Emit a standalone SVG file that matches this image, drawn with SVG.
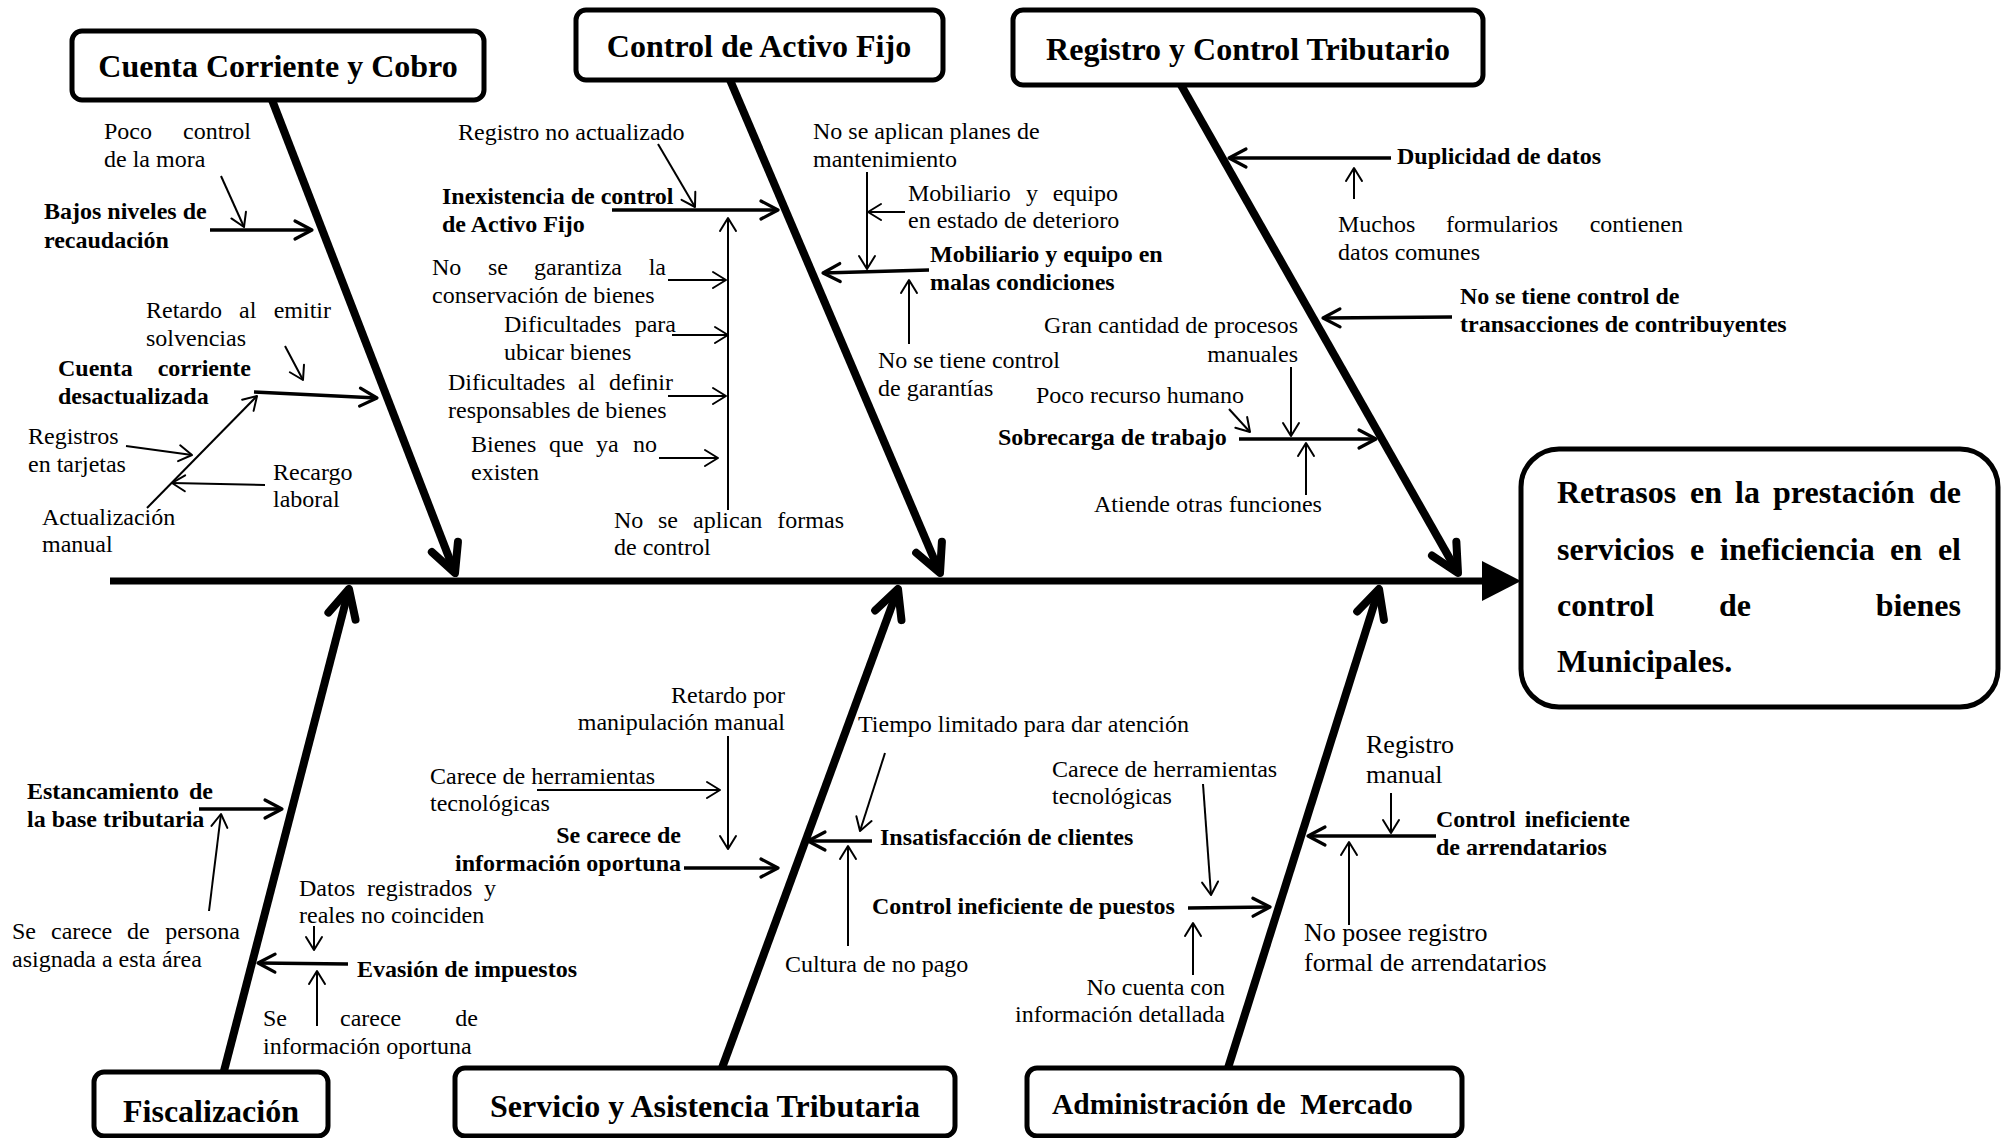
<svg xmlns="http://www.w3.org/2000/svg" width="2011" height="1138" viewBox="0 0 2011 1138">
  <defs>
    <style>
      text { font-family: "Liberation Serif", "Times New Roman", serif; font-size: 24px; fill: #000; }
      .b { font-weight: bold; }
      .lg { font-size: 26px; }
      .title { font-size: 32px; font-weight: bold; }
      .effect { font-size: 32px; font-weight: bold; }
      .box { fill: #fff; stroke: #000; stroke-width: 5; }
      .bone { stroke: #000; stroke-width: 8; fill: none; marker-end: url(#big); }
      .spine { stroke: #000; stroke-width: 7; fill: none; }
      .br { stroke: #000; stroke-width: 3.5; fill: none; marker-end: url(#mid); }
      .sub { stroke: #000; stroke-width: 2; fill: none; marker-end: url(#small); }
    </style>
    <marker id="big" markerUnits="userSpaceOnUse" viewBox="-34 -20 38 40" markerWidth="38" markerHeight="40" refX="0" refY="0" orient="auto" overflow="visible">
      <path d="M-28,-14 L0,0 L-28,14" fill="none" stroke="#000" stroke-width="8" stroke-linecap="round" stroke-linejoin="round"/>
    </marker>
    <marker id="mid" markerUnits="userSpaceOnUse" viewBox="-20 -12 24 24" markerWidth="24" markerHeight="24" refX="0" refY="0" orient="auto" overflow="visible">
      <path d="M-17,-9 L0,0 L-17,9" fill="none" stroke="#000" stroke-width="3.2" stroke-linecap="round" stroke-linejoin="round"/>
    </marker>
    <marker id="small" markerUnits="userSpaceOnUse" viewBox="-16 -10 20 20" markerWidth="20" markerHeight="20" refX="0" refY="0" orient="auto" overflow="visible">
      <path d="M-13,-8 L0,0 L-13,8" fill="none" stroke="#000" stroke-width="2" stroke-linecap="round" stroke-linejoin="round"/>
    </marker>
  </defs>

  <rect x="0" y="0" width="2011" height="1138" fill="#fff"/>

  <!-- connectors: spine, category bones, cause branches and sub-cause arrows -->
  <g id="connectors">
    <line class="spine" x1="110" y1="581" x2="1484" y2="581"/>
    <polygon points="1482,561 1521,581 1482,601" fill="#000"/>

    <line class="bone" x1="272" y1="100" x2="455" y2="573"/>
    <line class="bone" x1="730" y1="80" x2="940" y2="573"/>
    <line class="bone" x1="1181" y1="85" x2="1458" y2="573"/>
    <line class="bone" x1="224" y1="1071" x2="349" y2="589"/>
    <line class="bone" x1="722" y1="1068" x2="898" y2="589"/>
    <line class="bone" x1="1228" y1="1068" x2="1379" y2="589"/>

    <!-- Cuenta Corriente y Cobro -->
    <line class="sub" x1="221" y1="176" x2="244" y2="227"/>
    <line class="br" x1="210" y1="230" x2="312" y2="230"/>
    <line class="sub" x1="285" y1="346" x2="303" y2="380"/>
    <line class="br" x1="254" y1="392" x2="377" y2="398"/>
    <line class="sub" x1="147" y1="508" x2="257" y2="396"/>
    <line class="sub" x1="126" y1="446" x2="192" y2="455"/>
    <line class="sub" x1="265" y1="485" x2="172" y2="483"/>

    <!-- Control de Activo Fijo -->
    <line class="sub" x1="658" y1="144" x2="695" y2="207"/>
    <line class="br" x1="612" y1="210" x2="778" y2="210"/>
    <line class="sub" x1="728" y1="510" x2="728" y2="218"/>
    <line class="sub" x1="668" y1="280" x2="726" y2="280"/>
    <line class="sub" x1="672" y1="335" x2="728" y2="335"/>
    <line class="sub" x1="668" y1="396" x2="726" y2="396"/>
    <line class="sub" x1="659" y1="458" x2="718" y2="458"/>
    <line class="sub" x1="867" y1="172" x2="867" y2="269"/>
    <line class="sub" x1="905" y1="212" x2="868" y2="212"/>
    <line class="br" x1="929" y1="270" x2="823" y2="273"/>
    <line class="sub" x1="909" y1="344" x2="909" y2="280"/>

    <!-- Registro y Control Tributario -->
    <line class="br" x1="1391" y1="158" x2="1229" y2="158"/>
    <line class="sub" x1="1354" y1="199" x2="1354" y2="168"/>
    <line class="br" x1="1452" y1="317" x2="1323" y2="318"/>
    <line class="sub" x1="1291" y1="367" x2="1291" y2="436"/>
    <line class="sub" x1="1229" y1="409" x2="1250" y2="432"/>
    <line class="br" x1="1239" y1="439" x2="1376" y2="439"/>
    <line class="sub" x1="1306" y1="495" x2="1306" y2="443"/>

    <!-- Fiscalización -->
    <line class="br" x1="199" y1="809" x2="282" y2="809"/>
    <line class="sub" x1="209" y1="911" x2="221" y2="814"/>
    <line class="sub" x1="314" y1="926" x2="314" y2="950"/>
    <line class="br" x1="348" y1="964" x2="258" y2="963"/>
    <line class="sub" x1="317" y1="1026" x2="317" y2="971"/>

    <!-- Servicio y Asistencia Tributaria -->
    <line class="sub" x1="728" y1="736" x2="728" y2="849"/>
    <line class="sub" x1="537" y1="790" x2="720" y2="790"/>
    <line class="br" x1="684" y1="868" x2="778" y2="868"/>
    <line class="sub" x1="885" y1="753" x2="860" y2="831"/>
    <line class="br" x1="872" y1="841" x2="808" y2="841"/>
    <line class="sub" x1="848" y1="946" x2="848" y2="846"/>

    <!-- Administración de Mercado -->
    <line class="sub" x1="1203" y1="784" x2="1211" y2="895"/>
    <line class="br" x1="1188" y1="908" x2="1270" y2="907"/>
    <line class="sub" x1="1193" y1="975" x2="1193" y2="923"/>
    <line class="sub" x1="1391" y1="793" x2="1391" y2="833"/>
    <line class="br" x1="1436" y1="836" x2="1308" y2="836"/>
    <line class="sub" x1="1349" y1="925" x2="1349" y2="842"/>
  </g>

  <!-- effect -->
  <g id="effect">
    <rect class="box" x="1521" y="449" width="477" height="258" rx="38" ry="38"/>
    <text class="effect" x="1557" y="503">Retrasos</text>
    <text class="effect" x="1690" y="503">en</text>
    <text class="effect" x="1735" y="503">la</text>
    <text class="effect" x="1773" y="503">prestación</text>
    <text class="effect" x="1961" y="503" text-anchor="end">de</text>
    <text class="effect" x="1557" y="560">servicios</text>
    <text class="effect" x="1690" y="560">e</text>
    <text class="effect" x="1720" y="560">ineficiencia</text>
    <text class="effect" x="1890" y="560">en</text>
    <text class="effect" x="1961" y="560" text-anchor="end">el</text>
    <text class="effect" x="1557" y="616">control</text>
    <text class="effect" x="1719" y="616">de</text>
    <text class="effect" x="1961" y="616" text-anchor="end">bienes</text>
    <text class="effect" x="1557" y="672">Municipales.</text>
  </g>

  <!-- category: Cuenta Corriente y Cobro -->
  <g id="cat-cuenta-corriente">
    <rect class="box" x="72" y="31" width="412" height="69" rx="10" ry="10"/>
    <text class="title" x="278" y="77" text-anchor="middle">Cuenta Corriente y Cobro</text>
    <text x="104" y="139">Poco</text>
    <text x="251" y="139" text-anchor="end">control</text>
    <text x="104" y="167">de la mora</text>
    <text class="b" x="44" y="219">Bajos niveles de</text>
    <text class="b" x="44" y="248">recaudación</text>
    <text x="146" y="318">Retardo</text>
    <text x="239" y="318">al</text>
    <text x="331" y="318" text-anchor="end">emitir</text>
    <text x="146" y="346">solvencias</text>
    <text class="b" x="58" y="376">Cuenta</text>
    <text class="b" x="251" y="376" text-anchor="end">corriente</text>
    <text class="b" x="58" y="404">desactualizada</text>
    <text x="28" y="444">Registros</text>
    <text x="28" y="472">en tarjetas</text>
    <text x="273" y="480">Recargo</text>
    <text x="273" y="507">laboral</text>
    <text x="42" y="525">Actualización</text>
    <text x="42" y="552">manual</text>
  </g>

  <!-- category: Control de Activo Fijo -->
  <g id="cat-activo-fijo">
    <rect class="box" x="576" y="10" width="367" height="70" rx="10" ry="10"/>
    <text class="title" x="759" y="57" text-anchor="middle">Control de Activo Fijo</text>
    <text x="458" y="140">Registro no actualizado</text>
    <text class="b" x="442" y="204">Inexistencia de control</text>
    <text class="b" x="442" y="232">de Activo Fijo</text>
    <text x="432" y="275">No</text>
    <text x="488" y="275">se</text>
    <text x="534" y="275">garantiza</text>
    <text x="666" y="275" text-anchor="end">la</text>
    <text x="432" y="303">conservación de bienes</text>
    <text x="504" y="332">Dificultades</text>
    <text x="676" y="332" text-anchor="end">para</text>
    <text x="504" y="360">ubicar bienes</text>
    <text x="448" y="390">Dificultades</text>
    <text x="578" y="390">al</text>
    <text x="673" y="390" text-anchor="end">definir</text>
    <text x="448" y="418">responsables de bienes</text>
    <text x="471" y="452">Bienes</text>
    <text x="549" y="452">que</text>
    <text x="596" y="452">ya</text>
    <text x="657" y="452" text-anchor="end">no</text>
    <text x="471" y="480">existen</text>
    <text x="614" y="528">No</text>
    <text x="658" y="528">se</text>
    <text x="693" y="528">aplican</text>
    <text x="844" y="528" text-anchor="end">formas</text>
    <text x="614" y="555">de control</text>
    <text x="813" y="139">No se aplican planes de</text>
    <text x="813" y="167">mantenimiento</text>
    <text x="908" y="201">Mobiliario</text>
    <text x="1026" y="201">y</text>
    <text x="1118" y="201" text-anchor="end">equipo</text>
    <text x="908" y="228">en estado de deterioro</text>
    <text class="b" x="930" y="262">Mobiliario y equipo en</text>
    <text class="b" x="930" y="290">malas condiciones</text>
    <text x="878" y="368">No se tiene control</text>
    <text x="878" y="396">de garantías</text>
  </g>

  <!-- category: Registro y Control Tributario -->
  <g id="cat-registro-tributario">
    <rect class="box" x="1013" y="10" width="470" height="75" rx="10" ry="10"/>
    <text class="title" x="1248" y="60" text-anchor="middle">Registro y Control Tributario</text>
    <text class="b" x="1397" y="164">Duplicidad de datos</text>
    <text x="1338" y="232">Muchos</text>
    <text x="1446" y="232">formularios</text>
    <text x="1683" y="232" text-anchor="end">contienen</text>
    <text x="1338" y="260">datos comunes</text>
    <text class="b" x="1460" y="304">No se tiene control de</text>
    <text class="b" x="1460" y="332">transacciones de contribuyentes</text>
    <text x="1298" y="333" text-anchor="end">Gran cantidad de procesos</text>
    <text x="1298" y="362" text-anchor="end">manuales</text>
    <text x="1036" y="403">Poco recurso humano</text>
    <text class="b" x="998" y="445">Sobrecarga de trabajo</text>
    <text x="1094" y="512">Atiende otras funciones</text>
  </g>

  <!-- category: Fiscalización -->
  <g id="cat-fiscalizacion">
    <rect class="box" x="94" y="1072" width="234" height="64" rx="10" ry="10"/>
    <text class="title" x="211" y="1122" text-anchor="middle">Fiscalización</text>
    <text class="b" x="27" y="799">Estancamiento</text>
    <text class="b" x="213" y="799" text-anchor="end">de</text>
    <text class="b" x="27" y="827">la base tributaria</text>
    <text x="12" y="939">Se</text>
    <text x="51" y="939">carece</text>
    <text x="127" y="939">de</text>
    <text x="240" y="939" text-anchor="end">persona</text>
    <text x="12" y="967">asignada a esta área</text>
    <text x="299" y="896">Datos</text>
    <text x="367" y="896">registrados</text>
    <text x="496" y="896" text-anchor="end">y</text>
    <text x="299" y="923">reales no coinciden</text>
    <text class="b" x="357" y="977">Evasión de impuestos</text>
    <text x="263" y="1026">Se</text>
    <text x="340" y="1026">carece</text>
    <text x="478" y="1026" text-anchor="end">de</text>
    <text x="263" y="1054">información oportuna</text>
  </g>

  <!-- category: Servicio y Asistencia Tributaria -->
  <g id="cat-servicio">
    <rect class="box" x="455" y="1068" width="500" height="68" rx="10" ry="10"/>
    <text class="title" x="705" y="1117" text-anchor="middle">Servicio y Asistencia Tributaria</text>
    <text x="785" y="703" text-anchor="end">Retardo por</text>
    <text x="785" y="730" text-anchor="end">manipulación manual</text>
    <text x="430" y="784">Carece de herramientas</text>
    <text x="430" y="811">tecnológicas</text>
    <text class="b" x="681" y="843" text-anchor="end">Se carece de</text>
    <text class="b" x="681" y="871" text-anchor="end">información oportuna</text>
    <text x="858" y="732">Tiempo limitado para dar atención</text>
    <text class="b" x="880" y="845">Insatisfacción de clientes</text>
    <text x="785" y="972">Cultura de no pago</text>
  </g>

  <!-- category: Administración de Mercado -->
  <g id="cat-mercado">
    <rect class="box" x="1027" y="1068" width="435" height="68" rx="10" ry="10"/>
    <text class="title" x="1052" y="1114" style="font-size:29.5px" xml:space="preserve">Administración de  Mercado</text>
    <text x="1052" y="777">Carece de herramientas</text>
    <text x="1052" y="804">tecnológicas</text>
    <text class="b" x="872" y="914">Control ineficiente de puestos</text>
    <text x="1225" y="995" text-anchor="end">No cuenta con</text>
    <text x="1225" y="1022" text-anchor="end">información detallada</text>
    <text class="lg" x="1366" y="753">Registro</text>
    <text class="lg" x="1366" y="783">manual</text>
    <text class="b" x="1436" y="827">Control</text>
    <text class="b" x="1630" y="827" text-anchor="end">ineficiente</text>
    <text class="b" x="1436" y="855">de arrendatarios</text>
    <text class="lg" x="1304" y="941">No posee registro</text>
    <text class="lg" x="1304" y="971">formal de arrendatarios</text>
  </g>
</svg>
